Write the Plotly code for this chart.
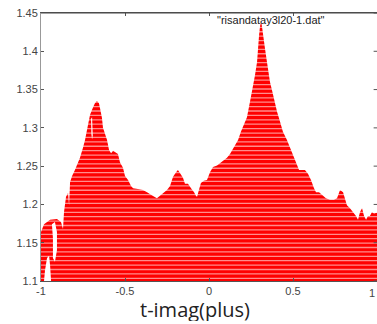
import numpy as np
import plotly.graph_objects as go

# upper boundary of the filled region
edge_x = [-1.000, -0.982, -0.946, -0.905, -0.881, -0.869, -0.863, -0.851, -0.839, -0.833,
          -0.827, -0.815, -0.798, -0.780, -0.768, -0.750, -0.738, -0.720, -0.708, -0.690,
          -0.679, -0.667, -0.655, -0.649, -0.637, -0.631, -0.619, -0.607, -0.595, -0.583,
          -0.571, -0.554, -0.542, -0.530, -0.512, -0.500, -0.482, -0.464, -0.452, -0.423,
          -0.393, -0.369, -0.351, -0.333, -0.310, -0.292, -0.274, -0.250, -0.232, -0.214,
          -0.196, -0.185, -0.173, -0.155, -0.143, -0.125, -0.107, -0.089, -0.077, -0.071,
          -0.060, -0.048, -0.030, -0.012, 0.006, 0.024, 0.048, 0.065, 0.089, 0.107,
          0.125, 0.137, 0.155, 0.173, 0.190, 0.208, 0.226, 0.244, 0.262, 0.274,
          0.286, 0.292, 0.298, 0.304, 0.310, 0.315, 0.327, 0.333, 0.345, 0.351,
          0.363, 0.375, 0.393, 0.405, 0.423, 0.440, 0.464, 0.482, 0.500, 0.518,
          0.536, 0.554, 0.571, 0.589, 0.607, 0.625, 0.637, 0.655, 0.673, 0.696,
          0.720, 0.744, 0.762, 0.780, 0.798, 0.810, 0.821, 0.839, 0.857, 0.875,
          0.887, 0.899, 0.911, 0.923, 0.935, 0.946, 0.958, 0.970, 0.982, 1.000]
edge_y = [1.164, 1.174, 1.180, 1.181, 1.177, 1.168, 1.190, 1.210, 1.215, 1.199,
          1.229, 1.237, 1.245, 1.254, 1.261, 1.274, 1.284, 1.304, 1.317, 1.327,
          1.332, 1.335, 1.332, 1.326, 1.313, 1.300, 1.291, 1.284, 1.271, 1.267,
          1.270, 1.268, 1.266, 1.255, 1.248, 1.237, 1.232, 1.224, 1.221, 1.220,
          1.219, 1.216, 1.214, 1.211, 1.208, 1.211, 1.215, 1.219, 1.224, 1.236,
          1.242, 1.245, 1.241, 1.235, 1.227, 1.227, 1.221, 1.216, 1.211, 1.210,
          1.219, 1.228, 1.231, 1.232, 1.242, 1.249, 1.251, 1.254, 1.258, 1.261,
          1.266, 1.271, 1.278, 1.284, 1.295, 1.305, 1.314, 1.334, 1.353, 1.369,
          1.386, 1.408, 1.421, 1.433, 1.438, 1.433, 1.417, 1.404, 1.386, 1.376,
          1.360, 1.349, 1.332, 1.321, 1.308, 1.295, 1.284, 1.274, 1.265, 1.255,
          1.245, 1.245, 1.245, 1.240, 1.232, 1.221, 1.216, 1.216, 1.212, 1.208,
          1.206, 1.206, 1.208, 1.219, 1.216, 1.208, 1.199, 1.195, 1.190, 1.185,
          1.180, 1.190, 1.195, 1.185, 1.180, 1.185, 1.185, 1.190, 1.188, 1.189]

# empty pockets inside the filled region
hole_a_x = [-0.935, -0.917, -0.905, -0.905, -0.917, -0.929, -0.929]
hole_a_y = [1.174, 1.177, 1.164, 1.140, 1.125, 1.130, 1.156]
hole_b_x = [-0.982, -0.976, -0.964, -0.952, -0.946, -0.940]
hole_b_y = [1.100, 1.114, 1.130, 1.133, 1.121, 1.100]
hole_c_x = [-0.702, -0.696, -0.692, -0.696, -0.700]
hole_c_y = [1.312, 1.314, 1.290, 1.285, 1.292]

x_ticks = [-1, -0.5, 0, 0.5]
x_tick_text = ["-1", "-0.5", "0", "0.5"]
x_last_tick, x_last_text = 1, "1"
y_ticks = [1.1, 1.15, 1.2, 1.25, 1.3, 1.35, 1.4, 1.45]
y_tick_text = ["1.1", "1.15", "1.2", "1.25", "1.3", "1.35", "1.4", "1.45"]

series_name = '"risandatay3l20-1.dat"'
x_title = "t-imag(plus)"

RED = "#ff0000"
Y0, Y1 = 1.1, 1.45
TICKFONT = dict(family="Liberation Sans", size=11, color="#444")

fig = go.Figure()
fig.add_trace(go.Scatter(
    x=edge_x + [1.0, -1.0], y=edge_y + [Y0 - 0.01, Y0 - 0.01],
    fill="toself", fillcolor=RED, mode="lines", line=dict(width=0, color=RED),
    hoverinfo="skip", showlegend=False))
for hx, hy in [(hole_a_x, hole_a_y), (hole_b_x, hole_b_y), (hole_c_x, hole_c_y)]:
    fig.add_trace(go.Scatter(
        x=hx, y=hy, fill="toself", fillcolor="white", mode="lines",
        line=dict(width=0, color="white"), hoverinfo="skip", showlegend=False))

# horizontal stripe texture
step = 0.00575
sx, sy = [], []
for yv in np.arange(Y0 + 0.0035, Y1, step):
    sx += [-1, 1, None]
    sy += [yv, yv, None]
fig.add_trace(go.Scatter(x=sx, y=sy, mode="lines",
                         line=dict(width=1.3, color="rgba(255,255,255,0.55)"),
                         hoverinfo="skip", showlegend=False))

fig.add_annotation(x=0.369, y=1.4405, xref="x", yref="y", text=series_name,
                   showarrow=False, font=dict(family="Liberation Sans", size=11, color="#222"))
fig.add_annotation(x=0.457, y=-0.1585, xref="paper", yref="paper", text=x_title,
                   showarrow=False, yanchor="bottom", height=23, valign="middle",
                   font=dict(family="Open Sans", size=20, color="#222"))
# last x tick label, which sits on the window edge
fig.add_annotation(x=x_last_tick, y=0, xref="x", yref="paper", text=x_last_text,
                   showarrow=False, xanchor="right", yanchor="top", yshift=-4,
                   font=TICKFONT)
fig.add_shape(type="line", xref="paper", yref="paper", x0=0, x1=1, y0=1, y1=1,
              line=dict(color="#444", width=1))
# right-side mirrored y ticks
for yt in y_ticks:
    fig.add_shape(type="line", xref="paper", yref="y", x0=0.99, x1=1, y0=yt, y1=yt,
                  line=dict(color="#555", width=1))

fig.update_layout(
    width=377, height=324, margin=dict(l=41, r=0, t=13, b=43),
    paper_bgcolor="white", plot_bgcolor="white", template="none",
    xaxis=dict(range=[-1, 1], tickvals=x_ticks + [x_last_tick], ticktext=x_tick_text + [""],
               showgrid=False, zeroline=False, showline=True, linecolor="#555",
               linewidth=1, ticks="inside", ticklen=3, tickcolor="#555",
               mirror="ticks", automargin=False, tickfont=TICKFONT),
    yaxis=dict(range=[Y0, Y1], tickvals=y_ticks, ticktext=y_tick_text,
               showgrid=False, zeroline=False, showline=True, linecolor="#999",
               linewidth=1, ticks="inside", ticklen=3, tickcolor="#555",
               automargin=False, tickfont=TICKFONT),
)
fig.write_html("out.html")
